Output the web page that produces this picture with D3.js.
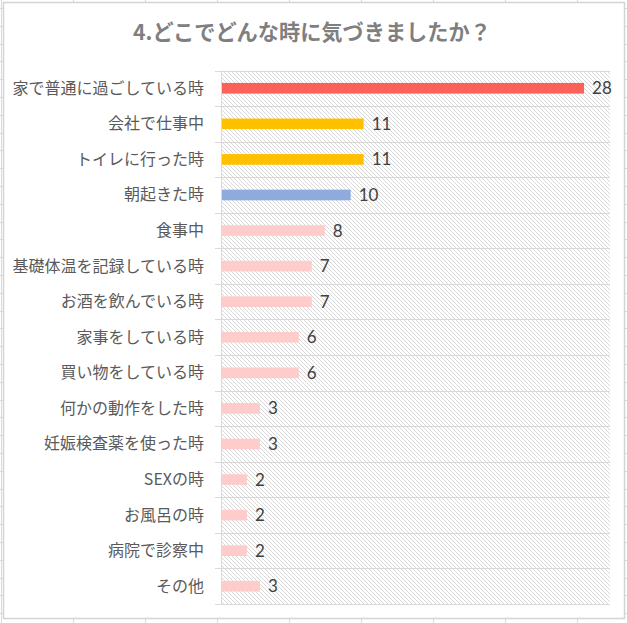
<!DOCTYPE html>
<html><head><meta charset="utf-8">
<script src="https://cdn.jsdelivr.net/npm/d3@7"></script>
<style>body{margin:0;background:#fff}svg{display:block}</style>
</head><body>
<script>
const categories = ["家で普通に過ごしている時","会社で仕事中","トイレに行った時","朝起きた時","食事中","基礎体温を記録している時","お酒を飲んでいる時","家事をしている時","買い物をしている時","何かの動作をした時","妊娠検査薬を使った時","SEXの時","お風呂の時","病院で診察中","その他"];
const values = [28,11,11,10,8,7,7,6,6,3,3,2,2,2,3];
const colorsList = ["#FA6259","#FFC000","#FFC000","#8FAADC","#FFCCCC","#FFCCCC","#FFCCCC","#FFCCCC","#FFCCCC","#FFCCCC","#FFCCCC","#FFCCCC","#FFCCCC","#FFCCCC","#FFCCCC"];
const title = "4.どこでどんな時に気づきましたか？";
const xMax = 30;

(function(){
const W = 627, H = 623;
const svg = d3.select("body").append("svg").attr("width", W).attr("height", H);
const defs = svg.append("defs");
const pat = defs.append("pattern").attr("id","hatch").attr("patternUnits","userSpaceOnUse")
  .attr("width",4).attr("height",4);
pat.append("rect").attr("width",4).attr("height",4).attr("fill","#fff");
[0,1,2,3].forEach(i => pat.append("rect").attr("x",i).attr("y",i).attr("width",1).attr("height",1).attr("fill","#d8d8d8"));

const grid = svg.append("g").attr("stroke","#dadada").attr("shape-rendering","crispEdges");
for (let gx = 1; gx < W; gx += 72) grid.append("line").attr("x1",gx+0.5).attr("x2",gx+0.5).attr("y1",0).attr("y2",H);
for (let gy = 8; gy < H; gy += 17.8) grid.append("line").attr("x1",0).attr("x2",W).attr("y1",Math.round(gy)+0.5).attr("y2",Math.round(gy)+0.5);

svg.append("rect").attr("x",3.5).attr("y",2.5).attr("width",621).attr("height",616)
  .attr("fill","#fff").attr("stroke","#d4d4d4").attr("stroke-width",1.5);

svg.append("text").attr("x",312).attr("y",40).attr("text-anchor","middle")
  .attr("font-family","'Noto Sans CJK JP', sans-serif").attr("font-weight","bold")
  .attr("font-size",21.2).attr("fill","#7f7f7f").text(title);

const pl = 221, pr = 610, pt = 70.5, pb = 604;
const x = d3.scaleLinear().domain([0, xMax]).range([pl, pr]);
const y = d3.scaleBand().domain(categories).range([pt, pb]);

svg.append("rect").attr("x",pl).attr("y",pt).attr("width",pr-pl).attr("height",pb-pt)
  .attr("fill","url(#hatch)");

const lines = svg.append("g").attr("stroke","#d9d9d9").attr("shape-rendering","crispEdges");
const bounds = categories.map(c => y(c)).concat([pb]);
bounds.forEach(b => lines.append("line").attr("x1",215).attr("x2",pr).attr("y1",Math.round(b)+0.5).attr("y2",Math.round(b)+0.5));
lines.append("line").attr("x1",pl+0.5).attr("x2",pl+0.5).attr("y1",pt).attr("y2",pb);

const bh = y.bandwidth()*0.3;
svg.append("g").selectAll("rect").data(categories).join("rect")
  .attr("x", pl+1).attr("y", d => y(d) + y.bandwidth()/2 - bh/2)
  .attr("width", (d,i) => x(values[i]) - pl - 1).attr("height", bh)
  .attr("fill", (d,i) => colorsList[i]);

svg.append("g").selectAll("text").data(categories).join("text")
  .attr("x", (d,i) => x(values[i]) + 8).attr("y", d => y(d) + y.bandwidth()/2 + 6)
  .attr("font-family","Lato, sans-serif").attr("font-weight",400).attr("font-size",17).attr("fill","#404040")
  .text((d,i) => values[i]);

svg.append("g").selectAll("text").data(categories).join("text")
  .attr("x", 204).attr("y", d => y(d) + y.bandwidth()/2 + 5.5)
  .attr("text-anchor","end")
  .attr("font-family","'Noto Sans CJK JP', sans-serif").attr("font-size",16).attr("fill","#5a5a5a")
  .text(d => d);
})();
</script>
</body></html>
